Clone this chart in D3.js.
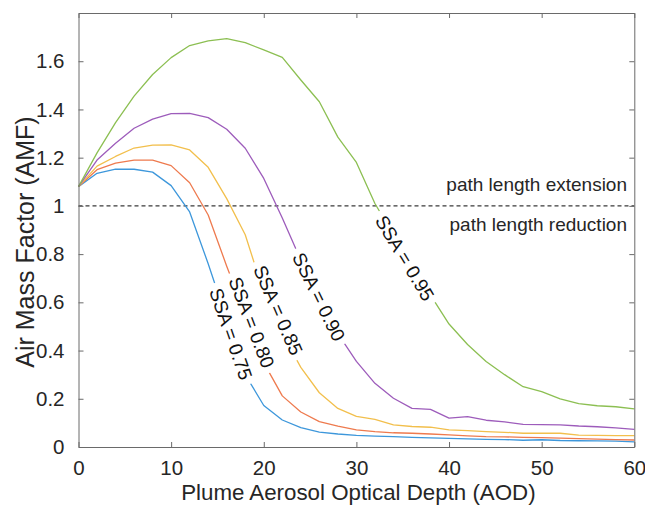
<!DOCTYPE html>
<html><head><meta charset="utf-8">
<script src="https://cdn.jsdelivr.net/npm/d3@7/dist/d3.min.js"></script>
<style>body{margin:0;background:#fff}svg{display:block}text{font-family:"Liberation Sans",Arial,Helvetica,sans-serif}</style>
</head><body><svg id="c" width="645" height="508"></svg>
<script>
// ---- data ----
const aod = [0,2,4,6,8,10,12,14,16,18,20,22,24,26,28,30,32,34,36,38,40,42,44,46,48,50,52,54,56,58,60];
const ssa075 = [1.08,1.135,1.152,1.152,1.14,1.084,0.975,0.76,0.53,0.30,0.172,0.112,0.080,0.062,0.054,0.048,0.045,0.043,0.040,0.038,0.036,0.034,0.032,0.031,0.028,0.030,0.027,0.026,0.025,0.024,0.021];
const ssa080 = [1.08,1.15,1.177,1.19,1.19,1.167,1.096,0.962,0.75,0.55,0.35,0.212,0.145,0.105,0.087,0.071,0.064,0.059,0.057,0.054,0.050,0.046,0.043,0.042,0.040,0.039,0.037,0.035,0.033,0.031,0.029];
const ssa085 = [1.08,1.165,1.205,1.24,1.252,1.253,1.232,1.16,1.03,0.88,0.64,0.47,0.33,0.225,0.16,0.127,0.115,0.092,0.085,0.082,0.071,0.068,0.064,0.061,0.057,0.057,0.057,0.049,0.048,0.047,0.047];
const ssa090 = [1.08,1.19,1.26,1.322,1.36,1.383,1.384,1.366,1.318,1.239,1.114,0.95,0.775,0.62,0.47,0.355,0.264,0.202,0.16,0.156,0.12,0.126,0.111,0.104,0.094,0.093,0.092,0.087,0.084,0.079,0.073];
const ssa095 = [1.08,1.22,1.345,1.455,1.545,1.615,1.665,1.684,1.694,1.677,1.647,1.616,1.522,1.432,1.285,1.18,1.01,0.88,0.755,0.63,0.51,0.425,0.355,0.30,0.25,0.23,0.20,0.18,0.171,0.167,0.158];
const seriesNames = ["SSA = 0.75","SSA = 0.80","SSA = 0.85","SSA = 0.90","SSA = 0.95"];
const seriesColors = ["#3d97db","#ee7a4e","#f2bf4c","#9d5cbb","#8cbf52"];
const labelAOD = [16.46,18.7,21.57,25.96,35.25];
const labelAMF = [0.469,0.517,0.568,0.623,0.784];
const labelAngle = [71,69,66.5,64,59];
const xTicks = [0,10,20,30,40,50,60];
const yTicks = [0,0.2,0.4,0.6,0.8,1,1.2,1.4,1.6];
const refLevel = 1;
const regionLabels = ["path length extension","path length reduction"];
const xTitle = "Plume Aerosol Optical Depth (AOD)";
const yTitle = "Air Mass Factor (AMF)";

// ---- layout ----
const L=78.5, R=634.3, T=13, B=447;
const x = d3.scaleLinear().domain([0,60]).range([L,R]);
const y = d3.scaleLinear().domain([0,1.8]).range([B,T]);
const svg = d3.select("#c");
const axisCol = "#6a6a6a", txtCol = "#262626";
const allSeries = [ssa075,ssa080,ssa085,ssa090,ssa095];

// masks to break lines under labels
const defs = svg.append("defs");
const gapLen = 107, gapH = 16;
allSeries.forEach((s,i)=>{
  const mk = defs.append("mask").attr("id","m"+i).attr("maskUnits","userSpaceOnUse")
    .attr("x",0).attr("y",0).attr("width",645).attr("height",508);
  mk.append("rect").attr("width",645).attr("height",508).attr("fill","#fff");
  mk.append("rect").attr("x",-gapLen/2).attr("y",-gapH/2).attr("width",gapLen).attr("height",gapH)
    .attr("fill","#000")
    .attr("transform",`translate(${x(labelAOD[i])},${y(labelAMF[i])}) rotate(${labelAngle[i]})`);
});

// reference dashed line
svg.append("line").attr("x1",x(0)).attr("x2",x(60)).attr("y1",y(refLevel)).attr("y2",y(refLevel))
  .attr("stroke","#3a3a3a").attr("stroke-width",1.1).attr("stroke-dasharray","4,3");

// lines
const line = d3.line().x((d,j)=>x(aod[j])).y(d=>y(d));
allSeries.forEach((s,i)=>{
  svg.append("path").attr("d",line(s)).attr("fill","none").attr("stroke",seriesColors[i])
    .attr("stroke-width",1.3).attr("stroke-linejoin","round").attr("mask",`url(#m${i})`);
});

// labels
allSeries.forEach((s,i)=>{
  svg.append("text").attr("transform",`translate(${x(labelAOD[i])},${y(labelAMF[i])}) rotate(${labelAngle[i]})`)
    .attr("text-anchor","middle").attr("dy","0.36em").attr("font-size",19).attr("fill","#111")
    .text(seriesNames[i]);
});

// region labels
svg.append("text").attr("x",627).attr("y",y(refLevel)-15).attr("text-anchor","end")
  .attr("font-size",19).attr("fill",txtCol).text(regionLabels[0]);
svg.append("text").attr("x",627).attr("y",y(refLevel)+25).attr("text-anchor","end")
  .attr("font-size",19).attr("fill",txtCol).text(regionLabels[1]);

// axes
const fmt = d3.format("~g");
const gx = svg.append("g").attr("transform",`translate(0,${B})`)
  .call(d3.axisBottom(x).tickValues(xTicks).tickSizeInner(-5).tickSizeOuter(0).tickPadding(13).tickFormat(fmt));
const gxt = svg.append("g").attr("transform",`translate(0,${T})`)
  .call(d3.axisTop(x).tickValues(xTicks).tickSizeInner(-5).tickSizeOuter(0).tickFormat(""));
const gy = svg.append("g").attr("transform",`translate(${L},0)`)
  .call(d3.axisLeft(y).tickValues(yTicks).tickSizeInner(-5).tickSizeOuter(0).tickPadding(14).tickFormat(fmt));
const gyr = svg.append("g").attr("transform",`translate(${R},0)`)
  .call(d3.axisRight(y).tickValues(yTicks).tickSizeInner(-5).tickSizeOuter(0).tickFormat(""));
[gx,gxt,gy,gyr].forEach(g=>{
  g.select(".domain").attr("stroke",axisCol).attr("stroke-width",1);
  g.selectAll(".tick line").attr("stroke",axisCol);
  g.selectAll(".tick text").attr("fill",txtCol).attr("font-size",20.5).attr("font-family",'"Liberation Sans",Arial,sans-serif');
});

// titles
svg.append("text").attr("x",(L+R)/2+2).attr("y",500).attr("text-anchor","middle")
  .attr("font-size",22.3).attr("fill",txtCol).text(xTitle);
svg.append("text").attr("transform",`translate(33.5,242) rotate(-90)`).attr("text-anchor","middle")
  .attr("font-size",25).attr("fill",txtCol).text(yTitle);
</script></body></html>
